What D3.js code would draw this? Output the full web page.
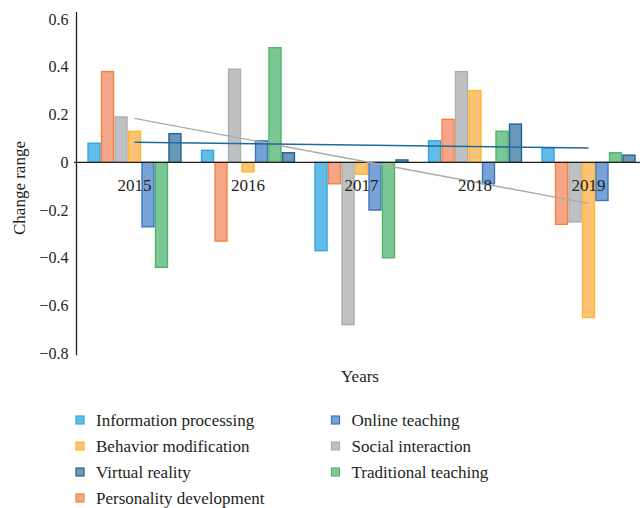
<!DOCTYPE html>
<html>
<head>
<meta charset="utf-8">
<script src="https://cdn.jsdelivr.net/npm/d3@7"></script>
<style>
  html, body { margin: 0; padding: 0; background: #ffffff; }
  svg { display: block; }
  svg text { font-family: "Liberation Serif", "DejaVu Serif", serif !important; fill: #231f20; }
</style>
</head>
<body>
<svg id="chart" width="640" height="508" font-family="Liberation Serif, serif"></svg>
<script>
// ---- Data ----
const years = ["2015", "2016", "2017", "2018", "2019"];
const seriesNames = ["Information processing", "Personality development", "Social interaction",
  "Behavior modification", "Online teaching", "Traditional teaching", "Virtual reality"];
const informationProcessing = [0.08, 0.05, -0.37, 0.09, 0.06];
const personalityDevelopment = [0.38, -0.33, -0.09, 0.18, -0.26];
const socialInteraction = [0.19, 0.39, -0.68, 0.38, -0.25];
const behaviorModification = [0.13, -0.04, -0.05, 0.30, -0.65];
const onlineTeaching = [-0.27, 0.09, -0.20, -0.09, -0.16];
const traditionalTeaching = [-0.44, 0.48, -0.40, 0.13, 0.04];
const virtualReality = [0.12, 0.04, 0.01, 0.16, 0.03];
const yTicks = [0.6, 0.4, 0.2, 0, -0.2, -0.4, -0.6, -0.8];
const legendOrder = ["Information processing", "Online teaching", "Behavior modification",
  "Social interaction", "Virtual reality", "Traditional teaching", "Personality development"];
const trendSeries = ["Social interaction", "Virtual reality"];

const valuesByName = {
  "Information processing": informationProcessing,
  "Personality development": personalityDevelopment,
  "Social interaction": socialInteraction,
  "Behavior modification": behaviorModification,
  "Online teaching": onlineTeaching,
  "Traditional teaching": traditionalTeaching,
  "Virtual reality": virtualReality
};
const fills = {
  "Information processing": "#62bce8",
  "Personality development": "#f6a688",
  "Social interaction": "#bfc0c2",
  "Behavior modification": "#fdc374",
  "Online teaching": "#76a2d6",
  "Traditional teaching": "#7bc796",
  "Virtual reality": "#6a98b8"
};
const strokes = {
  "Information processing": "#34a3da",
  "Personality development": "#f3823c",
  "Social interaction": "#acadaf",
  "Behavior modification": "#fbb92e",
  "Online teaching": "#3d76c0",
  "Traditional teaching": "#4fb563",
  "Virtual reality": "#1f6193"
};
const trendColors = { "Social interaction": "#aaaaaa", "Virtual reality": "#1b6a9c" };

// ---- Scales ----
const svg = d3.select("#chart");
const y = d3.scaleLinear().domain([-0.8, 0.6]).range([353.3, 19.05]);
const x0 = d3.scaleBand().domain(years).range([77.75, 645.25]).paddingInner(0.168).paddingOuter(0.084);
const x1 = d3.scaleBand().domain(seriesNames).range([0, x0.bandwidth()]).padding(0);

// ---- Y axis ----
svg.append("line")
  .attr("x1", 76.5).attr("x2", 76.5)
  .attr("y1", y(0.6) - 7).attr("y2", y(-0.8) + 2)
  .attr("stroke", "#231f20").attr("stroke-width", 1.3);

const yAxis = d3.axisLeft(y).tickValues(yTicks).tickSize(0).tickPadding(8)
  .tickFormat(d => d === 0 ? "0" : d3.format(".1f")(d).replace("-", "\u2212"));
const yg = svg.append("g").attr("transform", "translate(76.5,0)").call(yAxis);
yg.attr("font-family", null).attr("font-size", null);
yg.select(".domain").remove();
yg.selectAll("text").attr("font-size", 16).attr("fill", "#231f20")
  .style("font-family", "'Liberation Serif', serif");

// ---- Bars ----
const groups = svg.append("g").selectAll("g").data(years).join("g")
  .attr("transform", d => `translate(${x0(d)},0)`);
groups.selectAll("rect")
  .data((yr, i) => seriesNames.map(name => ({ name, value: valuesByName[name][i] })))
  .join("rect")
  .attr("x", d => x1(d.name) + 0.75)
  .attr("width", x1.bandwidth() - 1.5)
  .attr("y", d => Math.min(y(d.value), y(0)))
  .attr("height", d => Math.abs(y(d.value) - y(0)))
  .attr("fill", d => fills[d.name])
  .attr("stroke", d => strokes[d.name])
  .attr("stroke-width", 1.4);

// ---- Zero line ----
svg.append("line")
  .attr("x1", 74).attr("x2", 640)
  .attr("y1", y(0)).attr("y2", y(0))
  .attr("stroke", "#231f20").attr("stroke-width", 1.3);

// ---- Trend lines (linear least squares of the series) ----
trendSeries.forEach(name => {
  const vals = valuesByName[name];
  const n = vals.length;
  const xs = d3.range(1, n + 1);
  const mx = d3.mean(xs), my = d3.mean(vals);
  const slope = d3.sum(xs, (xv, i) => (xv - mx) * (vals[i] - my)) / d3.sum(xs, xv => (xv - mx) ** 2);
  const pts = [0, n - 1].map(i => ({ yr: years[i], v: my + slope * (xs[i] - mx) }));
  svg.append("path")
    .datum(pts)
    .attr("d", d3.line().x(d => x0(d.yr) + x0.bandwidth() / 2).y(d => y(d.v)))
    .attr("fill", "none")
    .attr("stroke", trendColors[name])
    .attr("stroke-width", 1.4);
});

// ---- X category labels ----
svg.append("g").selectAll("text").data(years).join("text")
  .attr("x", d => x0(d) + x0.bandwidth() / 2)
  .attr("y", 191)
  .attr("text-anchor", "middle")
  .attr("font-size", 17)
  .text(d => d);

// ---- Axis titles ----
svg.append("text").attr("x", 360).attr("y", 382).attr("text-anchor", "middle")
  .attr("font-size", 17).text("Years");
svg.append("text").attr("transform", "translate(25,188) rotate(-90)")
  .attr("text-anchor", "middle").attr("font-size", 17).text("Change range");

// ---- Legend ----
const legend = svg.append("g");
legendOrder.forEach((name, i) => {
  const col = i % 2, row = Math.floor(i / 2);
  const lx = col === 0 ? 76 : 331.5;
  const ly = 420 + row * 26;
  legend.append("rect").attr("x", lx).attr("y", ly - 4).attr("width", 8).attr("height", 8)
    .attr("fill", fills[name]).attr("stroke", strokes[name]).attr("stroke-width", 1.2);
  legend.append("text").attr("x", lx + 20).attr("y", ly + 5.5).attr("font-size", 17).text(name);
});
</script>
</body>
</html>
